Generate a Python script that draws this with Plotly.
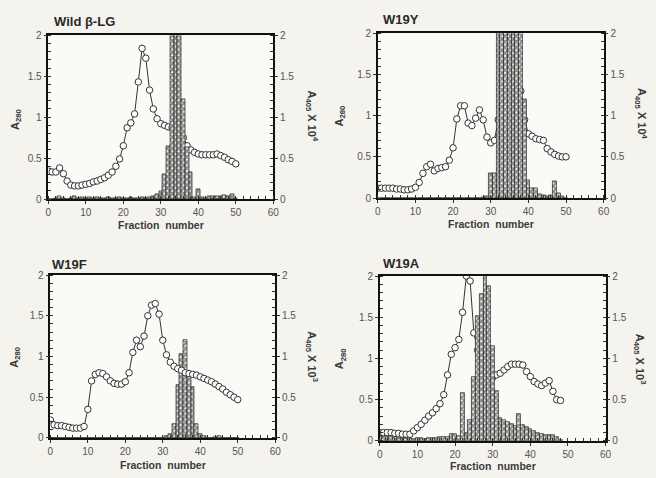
import plotly.graph_objects as go

W, H = 656, 478

# ---------------- data ----------------
fractions_wild = list(range(0, 51))
a280_wild = [0.34, 0.33, 0.33, 0.38, 0.31, 0.22, 0.17, 0.16, 0.16, 0.17,
             0.18, 0.19, 0.21, 0.22, 0.24, 0.26, 0.29, 0.33, 0.40, 0.49,
             0.65, 0.87, 0.93, 1.04, 1.43, 1.84, 1.72, 1.33, 1.10, 0.98,
             0.92, 0.90, 0.88, 0.87, 0.86, 0.85, 0.75, 0.65, 0.60, 0.57,
             0.55, 0.54, 0.54, 0.54, 0.54, 0.55, 0.53, 0.51, 0.48, 0.46, 0.43]
a405_wild = [0.00, 0.00, 0.01, 0.03, 0.01, 0.00, 0.01, 0.03, 0.01, 0.02,
             0.01, 0.02, 0.01, 0.02, 0.01, 0.01, 0.02, 0.01, 0.01, 0.02,
             0.01, 0.01, 0.02, 0.01, 0.01, 0.02, 0.01, 0.02, 0.03, 0.06,
             0.10, 0.30, 0.65, 2.50, 2.50, 2.50, 1.22, 0.63, 0.33, 0.02,
             0.12, 0.02, 0.01, 0.03, 0.04, 0.03, 0.04, 0.05, 0.03, 0.06, 0.01]

fractions_w19y = list(range(0, 51))
a280_w19y = [0.12, 0.12, 0.12, 0.12, 0.12, 0.11, 0.11, 0.10, 0.10, 0.11,
             0.13, 0.19, 0.30, 0.38, 0.41, 0.33, 0.36, 0.37, 0.38, 0.46,
             0.61, 0.96, 1.12, 1.12, 0.91, 0.88, 0.97, 1.07, 0.95, 0.74,
             0.67, 0.70, 0.95, 1.30, 1.60, 1.85, 2.00, 1.70, 1.30, 0.95,
             0.78, 0.75, 0.72, 0.71, 0.70, 0.60, 0.56, 0.53, 0.51, 0.50, 0.50]
a405_w19y = [0.00, 0.00, 0.00, 0.00, 0.00, 0.00, 0.00, 0.00, 0.00, 0.00,
             0.00, 0.00, 0.00, 0.00, 0.00, 0.00, 0.00, 0.00, 0.00, 0.00,
             0.00, 0.00, 0.00, 0.00, 0.00, 0.00, 0.00, 0.00, 0.01, 0.02,
             0.30, 0.30, 2.50, 2.50, 2.50, 2.50, 2.50, 2.50, 2.50, 1.20,
             0.22, 0.12, 0.12, 0.04, 0.03, 0.02, 0.03, 0.20, 0.06, 0.02, 0.00]

fractions_w19f = list(range(0, 51))
a280_w19f = [0.22, 0.16, 0.15, 0.15, 0.14, 0.13, 0.12, 0.12, 0.12, 0.14,
             0.35, 0.70, 0.78, 0.80, 0.79, 0.75, 0.70, 0.67, 0.66, 0.66,
             0.69, 0.80, 1.05, 1.20, 1.12, 1.25, 1.50, 1.63, 1.65, 1.52,
             1.20, 1.02, 0.93, 0.88, 0.85, 0.83, 0.80, 0.79, 0.78, 0.77,
             0.75, 0.73, 0.71, 0.69, 0.66, 0.63, 0.60, 0.56, 0.53, 0.50, 0.47]
a405_w19f = [0.00, 0.00, 0.00, 0.00, 0.00, 0.00, 0.00, 0.00, 0.00, 0.00,
             0.00, 0.00, 0.00, 0.00, 0.00, 0.00, 0.00, 0.00, 0.00, 0.00,
             0.00, 0.00, 0.00, 0.00, 0.00, 0.00, 0.00, 0.00, 0.00, 0.00,
             0.00, 0.02, 0.05, 0.17, 0.65, 1.03, 1.20, 0.78, 0.63, 0.17,
             0.05, 0.02, 0.00, 0.00, 0.01, 0.02, 0.00, 0.00, 0.00, 0.00, 0.00]

fractions_w19a = list(range(0, 49))
a280_w19a = [0.10, 0.10, 0.10, 0.10, 0.09, 0.09, 0.08, 0.08, 0.08, 0.12,
             0.16, 0.20, 0.25, 0.30, 0.34, 0.39, 0.45, 0.56, 0.80, 1.05,
             1.13, 1.23, 1.56, 2.00, 1.94, 1.31, 1.10, 0.95, 0.85, 0.80,
             0.77, 0.80, 0.82, 0.86, 0.90, 0.93, 0.93, 0.93, 0.92, 0.84,
             0.78, 0.72, 0.69, 0.67, 0.70, 0.73, 0.60, 0.50, 0.49]
a405_w19a = [0.06, 0.05, 0.05, 0.04, 0.04, 0.03, 0.03, 0.03, 0.03, 0.02,
             0.03, 0.03, 0.02, 0.03, 0.03, 0.03, 0.04, 0.04, 0.05, 0.08,
             0.08, 0.06, 0.58, 0.10, 0.25, 0.77, 1.52, 1.78, 2.00, 1.88,
             1.15, 0.60, 0.28, 0.25, 0.23, 0.20, 0.18, 0.33, 0.19, 0.17,
             0.14, 0.12, 0.10, 0.08, 0.07, 0.07, 0.07, 0.05, 0.01]

panel_titles = ["Wild β-LG", "W19Y", "W19F", "W19A"]
right_exponents = ["4", "4", "3", "3"]
x_ticks = [0, 10, 20, 30, 40, 50, 60]
y_ticks = [0, 0.5, 1, 1.5, 2]

# ---------------- layout helpers ----------------
def px(x):
    return x / W

def py(y):
    return 1 - y / H

# plot boxes in pixels: (left, right, top, bottom)
boxes = [(46, 274, 30, 198), (380, 609, 28, 197),
         (48, 276, 276, 443), (382, 611, 277, 446)]
title_pos = [(50, 16), (383, 14), (48, 265), (383, 264)]
a280_pos = [(13, 116), (342, 113), (12, 360), (342, 362)]
a405_pos = [(313, 113), (647, 110), (313, 360), (646, 362)]
xlabel_y = [225, 224, 471, 472]
bars_on_top = [True, True, False, True]

data = [(fractions_wild, a280_wild, a405_wild),
        (fractions_w19y, a280_w19y, a405_w19y),
        (fractions_w19f, a280_w19f, a405_w19f),
        (fractions_w19a, a280_w19a, a405_w19a)]

FONT = "Liberation Sans, Arial, sans-serif"
TXT = "#3a3a3a"

fig = go.Figure()
layout = dict(
    width=W, height=H, margin=dict(l=0, r=0, t=0, b=0),
    paper_bgcolor="#f4f3ee", plot_bgcolor="#fafaf7",
    showlegend=False, font=dict(family=FONT, color=TXT, size=11),
    barmode="overlay", bargap=0,
)
annotations = []

for i in range(4):
    fr, a280, a405 = data[i]
    xa = f"x{i+1}"
    yb = f"y{2*i+1}"
    yo = f"y{2*i+2}"
    l, r, t, b = boxes[i]

    scatter_axis, bar_axis = (yb, yo) if bars_on_top[i] else (yo, yb)

    bar = go.Bar(
        x=fr, y=a405, xaxis=xa, yaxis=bar_axis, width=1.0,
        marker=dict(color="#ffffff",
                    line=dict(color="#222222", width=0.7),
                    pattern=dict(shape="x", fgcolor="#1e1e1e", bgcolor="#e8e8e6",
                                 size=4, solidity=0.65)),
        hoverinfo="skip",
    )
    sc = go.Scatter(
        x=fr, y=a280, xaxis=xa, yaxis=scatter_axis, mode="lines+markers",
        line=dict(color="#333333", width=1),
        marker=dict(symbol="circle", size=6.5, color="#ffffff",
                    line=dict(color="#333333", width=1)),
    )
    fig.add_trace(sc)
    fig.add_trace(bar)

    axline = dict(showline=True, linecolor="#111111", linewidth=1.5,
                  showgrid=False, zeroline=False,
                  tickfont=dict(family=FONT, size=10, color="#555555"),
                  ticks="outside", ticklen=3, tickcolor="#333333", tickwidth=1)

    layout[f"xaxis{i+1}"] = dict(
        domain=[px(l), px(r)], anchor=yb, range=[0, 60],
        tickvals=x_ticks, mirror=True,
        minor=dict(dtick=2, ticks="inside", ticklen=3, tickcolor="#333333"),
        **axline)
    layout[f"yaxis{2*i+1}"] = dict(
        domain=[py(b), py(t)], anchor=xa, range=[0, 2],
        tickvals=y_ticks,
        minor=dict(dtick=0.1, ticks="inside", ticklen=3, tickcolor="#333333"),
        **axline)
    layout[f"yaxis{2*i+2}"] = dict(
        domain=[py(b), py(t)], anchor=xa, range=[0, 2], overlaying=yb,
        side="right", tickvals=y_ticks,
        minor=dict(dtick=0.1, ticks="inside", ticklen=3, tickcolor="#333333"),
        **axline)

    tx, ty = title_pos[i]
    annotations.append(dict(text=f"<b>{panel_titles[i]}</b>", x=px(tx), y=py(ty),
                            xref="paper", yref="paper", xanchor="left", yanchor="middle",
                            showarrow=False, font=dict(size=13, color="#2a2a2a")))
    annotations.append(dict(text="<b>Fraction  number</b>", x=px((l + r) / 2), y=py(xlabel_y[i]),
                            xref="paper", yref="paper", xanchor="center", yanchor="middle",
                            showarrow=False, font=dict(size=10.5, color="#3a3a3a")))
    ax, ay = a280_pos[i]
    annotations.append(dict(text="<b>A<sub>280</sub></b>", x=px(ax), y=py(ay),
                            xref="paper", yref="paper", xanchor="center", yanchor="middle",
                            textangle=-90, showarrow=False,
                            font=dict(size=11, color="#3a3a3a")))
    rx, ry = a405_pos[i]
    annotations.append(dict(text=f"<b>A<sub>405</sub> X 10<sup>{right_exponents[i]}</sup></b>",
                            x=px(rx), y=py(ry), xref="paper", yref="paper",
                            xanchor="center", yanchor="middle",
                            textangle=90, showarrow=False,
                            font=dict(size=11, color="#3a3a3a")))

layout["annotations"] = annotations
fig.update_layout(**layout)
fig.write_html("out.html")
